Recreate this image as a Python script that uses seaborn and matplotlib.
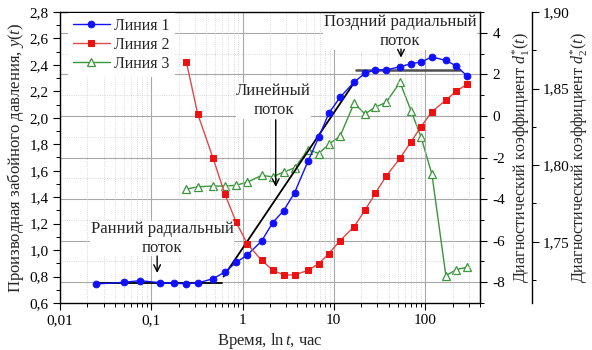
import numpy as np
import pandas as pd
import matplotlib
matplotlib.use("Agg")
import matplotlib.pyplot as plt
import seaborn as sns
from matplotlib.ticker import MultipleLocator, LogLocator, NullFormatter, FixedLocator

# ---------------- data ----------------
time_h = [0.025, 0.05, 0.075, 0.126, 0.176, 0.243, 0.323, 0.476, 0.64, 0.853,
          1.13, 1.62, 2.14, 2.82, 3.72, 5.22, 6.84, 8.81, 11.7, 16.7,
          21.9, 28.5, 37.6, 53.1, 70.1, 90.3, 119, 169, 221, 287]
line1_y = [0.744, 0.756, 0.769, 0.753, 0.749, 0.746, 0.751, 0.784, 0.834, 0.907,
           0.963, 1.069, 1.207, 1.298, 1.434, 1.673, 1.852, 2.034, 2.155, 2.270,
           2.336, 2.363, 2.363, 2.386, 2.409, 2.422, 2.460, 2.434, 2.391, 2.318]
time_h2 = time_h[5:]
line2_y = [2.419, 2.029, 1.694, 1.424, 1.210, 1.046, 0.922, 0.849, 0.812, 0.812,
           0.847, 0.897, 0.973, 1.071, 1.177, 1.300, 1.429, 1.560, 1.694, 1.818,
           1.933, 2.046, 2.134, 2.202, 2.253]
line3_d1 = [-3.52, -3.41, -3.37, -3.38, -3.33, -3.19, -2.86, -2.93, -2.70, -2.50,
            -1.62, -1.81, -1.36, -0.98, 0.61, 0.10, 0.42, 0.66, 1.62, 0.26,
            -1.01, -2.81, -7.68, -7.39, -7.28]

# straight-line regime fits
fit_early_x, fit_early_y = [0.025, 0.60], [0.75, 0.75]
fit_linear_x, fit_linear_y = [0.62, 16.6], [0.80, 2.263]
fit_late_x, fit_late_y = [17.5, 240], [2.365, 2.365]

series_labels = ["Линия 1", "Линия 2", "Линия 3"]
xtick_vals = [0.01, 0.1, 1, 10, 100]
xtick_labels = ["0,01", "0,1", "1", "10", "100"]
ytick_vals = [0.6, 0.8, 1.0, 1.2, 1.4, 1.6, 1.8, 2.0, 2.2, 2.4, 2.6, 2.8]
ytick_labels = ["0,6", "0,8", "1,0", "1,2", "1,4", "1,6", "1,8", "2,0", "2,2", "2,4", "2,6", "2,8"]
d1_ticks = [-8, -6, -4, -2, 0, 2, 4]
d1_labels = ["-8", "-6", "-4", "-2", "0", "2", "4"]
d2_ticks = [1.75, 1.80, 1.85, 1.90]
d2_labels = ["1,75", "1,80", "1,85", "1,90"]

# annotations: text, text position, arrow start, arrow tip
ann_texts = ["Ранний радиальный\nпоток", "Линейный\nпоток", "Поздний радиальный\nпоток"]
ann_pos = [(0.132, 1.088), (2.19, 2.128), (53.1, 2.651)]
arrow_from = [(0.116, 0.955), (2.31, 1.985), (54.5, 2.52)]
arrow_to = [(0.116, 0.827), (2.31, 1.477), (54.5, 2.455)]

# ---------------- style ----------------
sns.set_style("ticks")
plt.rcParams["font.family"] = ["Liberation Serif", "DejaVu Serif"]
plt.rcParams["mathtext.fontset"] = "custom"
plt.rcParams["mathtext.rm"] = "Liberation Serif"
plt.rcParams["mathtext.it"] = "Liberation Serif:italic"
plt.rcParams["axes.unicode_minus"] = False

C_BLUE = "#1010ff"
C_RED = "#ee1111"
C_RED_LINE = "#e04848"
C_GREEN = "#3a963a"

fig = plt.figure(figsize=(5.92, 3.5), dpi=100)
ax = fig.add_axes([60 / 592, 1 - 303 / 350, 420 / 592, 291 / 350])
ax2 = ax.twinx()
ax3 = ax.twinx()
ax.set_zorder(3)
ax.patch.set_visible(False)
ax2.set_zorder(2)
ax3.set_zorder(1)

df1 = pd.DataFrame({"t": time_h, "y": line1_y})
df2 = pd.DataFrame({"t": time_h2, "y": line2_y})
df3 = pd.DataFrame({"t": time_h2, "d": line3_d1})

sns.lineplot(data=df1, x="t", y="y", ax=ax, color=C_BLUE, lw=1.0, marker="o",
             markersize=4.8, markeredgecolor=C_BLUE, markerfacecolor=C_BLUE,
             label=series_labels[0], zorder=4)
sns.lineplot(data=df2, x="t", y="y", ax=ax, color=C_RED_LINE, lw=1.0, marker="s",
             markersize=4.6, markeredgecolor=C_RED, markerfacecolor=C_RED,
             label=series_labels[1], zorder=4)
sns.lineplot(data=df3, x="t", y="d", ax=ax2, color=C_GREEN, lw=1.0, marker="^",
             markersize=6.2, markeredgecolor=C_GREEN, markerfacecolor="white",
             markeredgewidth=0.9, label=series_labels[2], zorder=4)

ax.plot(fit_early_x, fit_early_y, color="black", lw=1.3, zorder=3)
ax.plot(fit_linear_x, fit_linear_y, color="black", lw=1.3, zorder=3)
ax.plot(fit_late_x, fit_late_y, color="#505050", lw=1.8, zorder=3)

for txt, pos, a0, a1 in zip(ann_texts, ann_pos, arrow_from, arrow_to):
    ax.text(pos[0], pos[1], txt, ha="center", va="center", multialignment="center",
            fontsize=12, linespacing=1.25, zorder=6,
            bbox=dict(facecolor="white", edgecolor="none", pad=0.3))
    ax.annotate("", xy=a1, xytext=a0,
                arrowprops=dict(arrowstyle="->", color="black", lw=1.0,
                                shrinkA=0, shrinkB=0, mutation_scale=12), zorder=6)

# ---------------- axes ----------------
ax.set_xscale("log")
ax.set_xlim(0.01, 400)
ax.set_ylim(0.6, 2.8)
ax2.set_ylim(-9, 5)
ax3.set_ylim(1.71, 1.90)

ax.set_xticks(xtick_vals)
ax.set_xticklabels(xtick_labels)
ax.xaxis.set_minor_locator(LogLocator(base=10, subs=np.arange(2, 10), numticks=20))
ax.xaxis.set_minor_formatter(NullFormatter())
ax.set_yticks(ytick_vals)
ax.set_yticklabels(ytick_labels)
ax.yaxis.set_minor_locator(MultipleLocator(0.1))

ax2.set_yticks(d1_ticks)
ax2.set_yticklabels(d1_labels)
ax2.yaxis.set_minor_locator(MultipleLocator(1))
ax3.set_yticks(d2_ticks)
ax3.set_yticklabels(d2_labels)
ax3.yaxis.set_minor_locator(FixedLocator([1.725, 1.775, 1.825, 1.875]))

for a in (ax, ax2, ax3):
    a.tick_params(which="major", direction="out", length=5, width=0.8, labelsize=11,
                  color="black", labelcolor="black", pad=3)
    a.tick_params(which="minor", direction="out", length=3, width=0.7, color="black")
ax.tick_params(top=False, right=False, which="both")
ax2.tick_params(axis="y", pad=4)

ax.grid(axis="x", which="major", color="#a8a8a8", lw=0.8, ls="-")
ax.grid(axis="x", which="minor", color="#cccccc", lw=0.6, ls=":")
ax.grid(axis="y", visible=False)
ax2.grid(axis="y", which="major", color="#a8a8a8", lw=0.8, ls="-")
ax2.grid(axis="y", which="minor", color="#cccccc", lw=0.6, ls=":")
ax2.grid(axis="x", visible=False)
ax3.grid(False)

for s in ("left", "bottom", "top", "right"):
    ax.spines[s].set_visible(True)
    ax.spines[s].set_color("black")
    ax.spines[s].set_linewidth(1.0)
for s in ("left", "bottom", "top"):
    ax2.spines[s].set_visible(False)
    ax3.spines[s].set_visible(False)
ax2.spines["right"].set_color("black")
ax3.spines["right"].set_position(("axes", 1.123))
ax3.spines["right"].set_color("black")
ax3.spines["right"].set_linewidth(1.0)

ax.set_xlabel("Время, $\\mathrm{ln}\\,t$, час", fontsize=12, labelpad=3)
ax.set_ylabel("Производная забойного давления, $y(t)$", fontsize=12)
ax.yaxis.set_label_coords(-0.080, 0.5)
ax2.set_ylabel("Диагностический коэффициент $d_1^{*}(t)$", fontsize=11.5)
ax2.yaxis.set_label_coords(1.072, 0.5)
ax3.set_ylabel("Диагностический коэффициент $d_2^{*}(t)$", fontsize=11.5)
ax3.yaxis.set_label_coords(1.211, 0.5)

# legend
h1, l1 = ax.get_legend_handles_labels()
h2, l2 = ax2.get_legend_handles_labels()
if ax2.get_legend() is not None:
    ax2.get_legend().remove()
leg = ax.legend(h1 + h2, l1 + l2, loc="upper left", bbox_to_anchor=(0.019, 0.997),
                frameon=True, facecolor="white", edgecolor="none", framealpha=1,
                fontsize=11.5, handlelength=2.3, handletextpad=0.3, labelspacing=0.2,
                borderpad=0.3, borderaxespad=0, fancybox=False)
leg.set_zorder(10)

fig.savefig("out.png", dpi=100, facecolor="white")
